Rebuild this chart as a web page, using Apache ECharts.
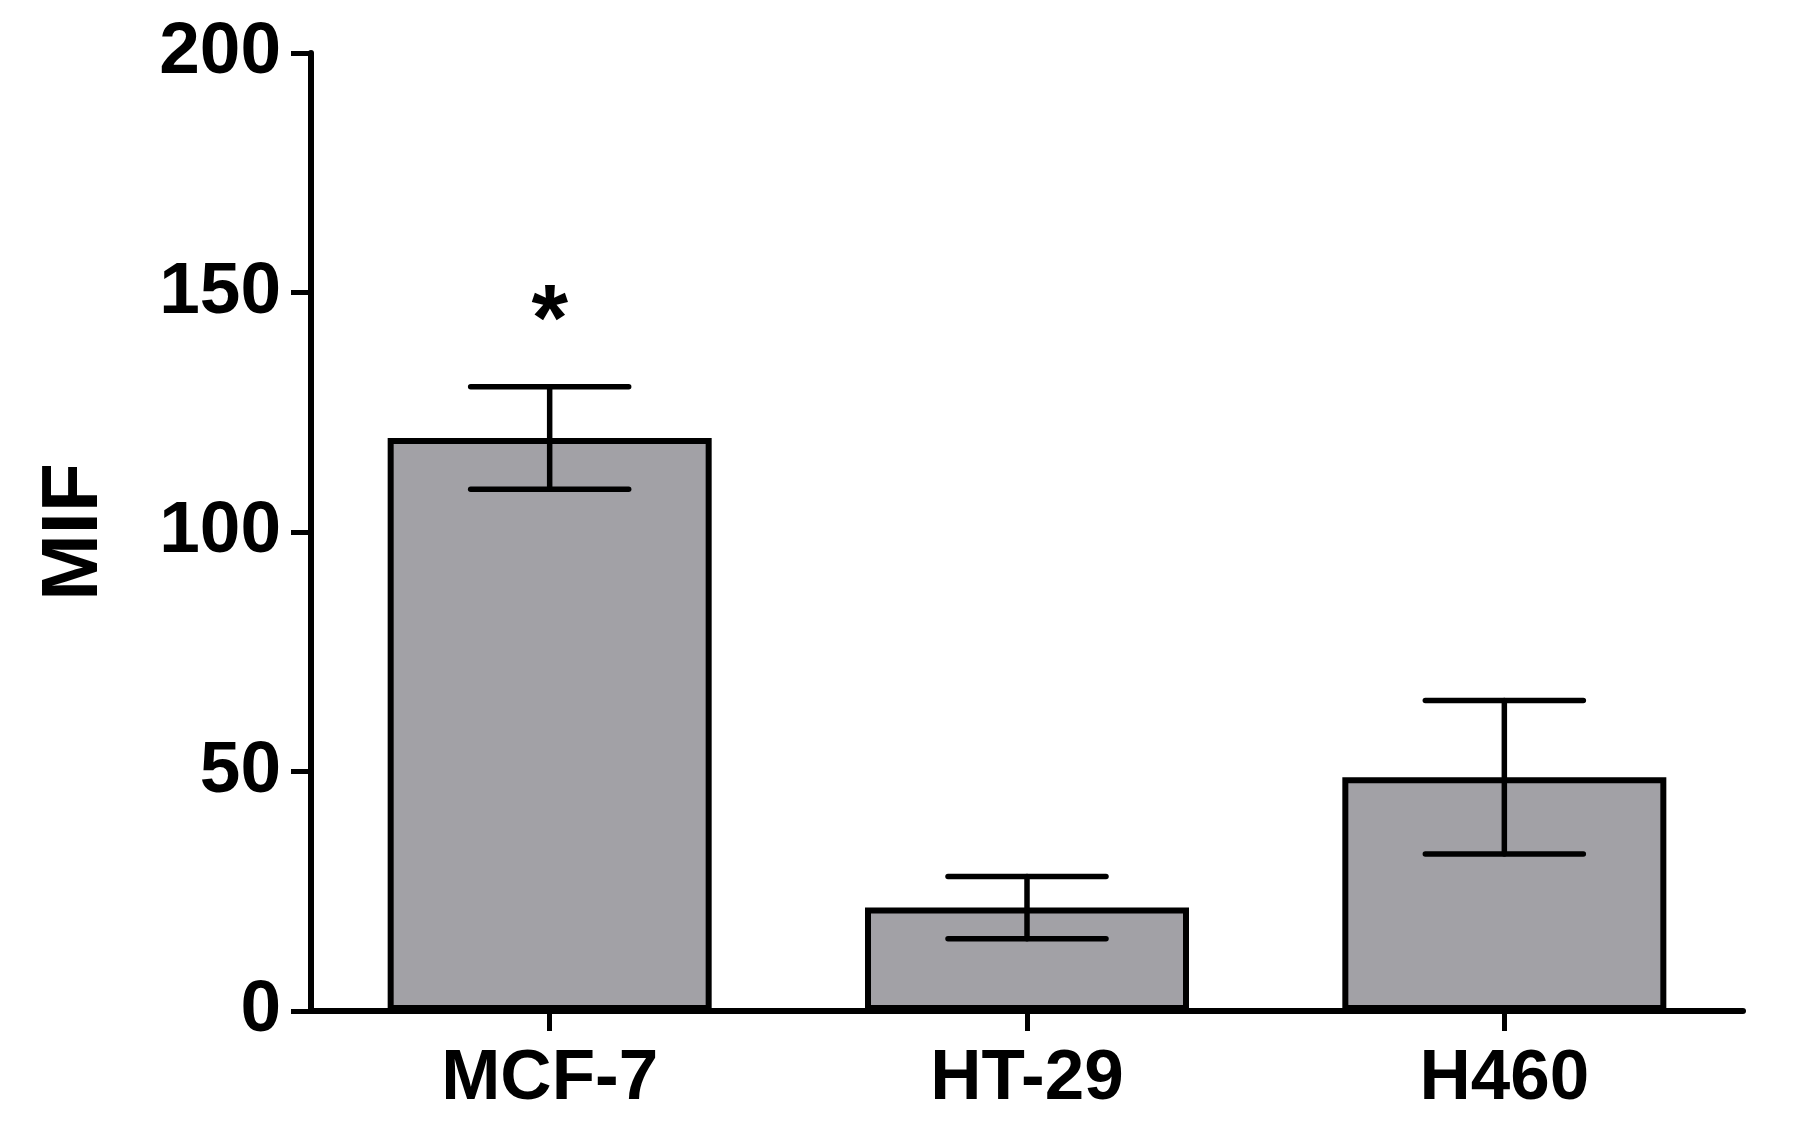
<!DOCTYPE html>
<html>
<head>
<meta charset="utf-8">
<script src="https://cdn.jsdelivr.net/npm/echarts@6/dist/echarts.min.js"></script>
<style>html,body{margin:0;padding:0;background:#fff;}#c{width:1794px;height:1137px;}</style>
</head>
<body>
<div id="c"></div>
<script>
const categories = ["MCF-7", "HT-29", "H460"];
const means = [119.6, 21.6, 48.8];
const errors = [10.7, 6.5, 16.0];
const annotations = ["*", "", ""];
const yTicks = [0, 50, 100, 150, 200];

const FONT = "'Liberation Sans', Arial, sans-serif";
const chart = echarts.init(document.getElementById('c'), null, {renderer: 'canvas'});

const errData = categories.map((c, i) => [i, means[i] - errors[i], means[i] + errors[i], annotations[i]]);

chart.setOption({
  backgroundColor: '#ffffff',
  animation: false,
  grid: {left: 311, right: 51, top: 53, bottom: 126, containLabel: false},
  xAxis: {
    type: 'category',
    data: categories,
    axisLine: {show: true, lineStyle: {color: '#000', width: 6}},
    axisTick: {show: true, alignWithLabel: true, length: 20, lineStyle: {color: '#000', width: 5}},
    axisLabel: {color: '#000', fontSize: 71, fontWeight: 'bold', fontFamily: FONT, margin: 33},
    splitLine: {show: false}
  },
  yAxis: {
    type: 'value',
    min: yTicks[0], max: yTicks[yTicks.length - 1], interval: 50,
    name: 'MIF',
    nameLocation: 'middle',
    nameGap: 196,
    nameRotate: 90,
    nameTextStyle: {color: '#000', fontSize: 80, fontWeight: 'bold', fontFamily: FONT},
    axisLine: {show: true, lineStyle: {color: '#000', width: 6}},
    axisTick: {show: true, length: 20, lineStyle: {color: '#000', width: 5}},
    axisLabel: {color: '#000', fontSize: 73, fontWeight: 'bold', fontFamily: FONT, margin: 30},
    splitLine: {show: false}
  },
  series: [
    {
      type: 'bar',
      data: means,
      barWidth: 324,
      itemStyle: {color: '#a2a1a6', borderColor: '#000', borderWidth: 6},
      z: 2
    },
    {
      type: 'custom',
      data: errData,
      z: 3,
      renderItem: function (params, api) {
        const x = api.value(0);
        const lo = api.coord([x, api.value(1)]);
        const hi = api.coord([x, api.value(2)]);
        const half = 79;
        const style = {stroke: '#000', lineWidth: 5.5, lineCap: 'round'};
        const children = [
          {type: 'line', shape: {x1: lo[0], y1: lo[1], x2: hi[0], y2: hi[1]}, style: style},
          {type: 'line', shape: {x1: lo[0] - half, y1: lo[1], x2: lo[0] + half, y2: lo[1]}, style: style},
          {type: 'line', shape: {x1: hi[0] - half, y1: hi[1], x2: hi[0] + half, y2: hi[1]}, style: style}
        ];
        const ann = api.value(3);
        if (ann) {
          children.push({
            type: 'text',
            style: {text: ann, x: hi[0], y: hi[1] - 63, align: 'center', verticalAlign: 'middle',
              fill: '#000', font: 'bold 94px ' + FONT}
          });
        }
        return {type: 'group', children: children};
      }
    }
  ]
});
</script>
</body>
</html>
